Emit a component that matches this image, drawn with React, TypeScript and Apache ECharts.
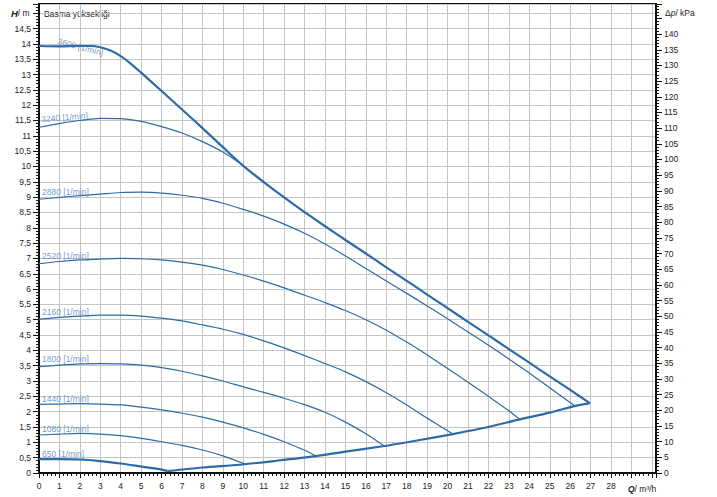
import React, { useEffect, useRef } from "react";
import * as echarts from "echarts";

// Speed curve labels
const speedLabels = [
  "3600 [1/min]",
  "3240 [1/min]",
  "2880 [1/min]",
  "2520 [1/min]",
  "2160 [1/min]",
  "1800 [1/min]",
  "1440 [1/min]",
  "1080 [1/min]",
  "650 [1/min]",
];

// Curves: [Q m3/h, H m]
const curve3600 = [
  [0, 13.93], [1, 13.92], [2, 13.93], [2.5, 13.93], [3, 13.89], [3.5, 13.78], [4, 13.6],
  [4.5, 13.35], [5, 13.06], [6, 12.46], [7, 11.86], [8, 11.25], [9, 10.63], [10, 10.02],
  [11, 9.49], [12, 8.99], [13, 8.51], [14, 8.05], [15, 7.6], [16, 7.16], [17, 6.71],
  [18, 6.27], [19, 5.82], [20, 5.38], [21, 4.93], [22, 4.49], [23, 4.04], [24, 3.6],
  [25, 3.15], [26, 2.71], [26.96, 2.28],
];
const curve3240 = [
  [0, 11.28], [1, 11.4], [2, 11.5], [3, 11.57], [4, 11.56], [5, 11.47], [6, 11.3],
  [7, 11.09], [8, 10.81], [9, 10.47], [10, 10.03],
];
const curve2880 = [
  [0, 8.93], [1, 8.99], [2, 9.05], [3, 9.1], [4, 9.15], [5, 9.16], [6, 9.13], [7, 9.06],
  [8, 8.96], [9, 8.8], [10, 8.6], [11, 8.38], [12, 8.12], [13, 7.82], [14, 7.47],
  [15, 7.08], [16, 6.67], [17, 6.26], [18, 5.86], [19, 5.45], [20, 5.03], [21, 4.6],
  [22, 4.17], [23, 3.72], [24, 3.26], [25, 2.78], [26.2, 2.2],
];
const curve2520 = [
  [0, 6.83], [1, 6.9], [2, 6.95], [3, 6.98], [4, 7.0], [5, 6.99], [6, 6.95], [7, 6.88],
  [8, 6.78], [9, 6.64], [10, 6.46], [11, 6.26], [12, 6.04], [13, 5.8], [14, 5.56],
  [15, 5.3], [16, 5.0], [17, 4.66], [18, 4.27], [19, 3.85], [20, 3.41], [21, 2.96],
  [22, 2.5], [23, 2.03], [23.53, 1.75],
];
const curve2160 = [
  [0, 5.02], [1, 5.08], [2, 5.12], [3, 5.15], [4, 5.15], [5, 5.12], [6, 5.05], [7, 4.96],
  [8, 4.83], [9, 4.69], [10, 4.52], [11, 4.31], [12, 4.08], [13, 3.83], [14, 3.57],
  [15, 3.3], [16, 2.98], [17, 2.62], [18, 2.22], [19, 1.79], [20.26, 1.27],
];
const curve1800 = [
  [0, 3.47], [1, 3.52], [2, 3.56], [3, 3.57], [4, 3.56], [5, 3.52], [6, 3.44], [7, 3.32],
  [8, 3.17], [9, 3.0], [10, 2.81], [11, 2.63], [12, 2.44], [13, 2.23], [14, 1.98],
  [15, 1.66], [16, 1.28], [16.9, 0.88],
];
const curve1440 = [
  [0, 2.24], [1, 2.25], [2, 2.26], [3, 2.25], [4, 2.22], [5, 2.15], [6, 2.06], [7, 1.95],
  [8, 1.82], [9, 1.66], [10, 1.47], [11, 1.26], [12, 1.02], [13, 0.74], [13.56, 0.55],
];
const curve1080 = [
  [0, 1.24], [1, 1.27], [2, 1.29], [3, 1.27], [4, 1.22], [5, 1.13], [6, 1.02], [7, 0.9],
  [8, 0.75], [9, 0.56], [10.1, 0.29],
];
const curve650 = [
  [0, 0.45], [1, 0.45], [2, 0.44], [3, 0.39], [4, 0.31], [5, 0.21], [6, 0.11], [6.3, 0.06],
];
const envelope = [
  [6.3, 0.06], [8, 0.18], [9.8, 0.27], [11.5, 0.39], [13.56, 0.55], [15, 0.7], [16.9, 0.88],
  [18.5, 1.06], [20.26, 1.27], [22, 1.5], [23.53, 1.75], [25, 1.97], [26.2, 2.18], [26.96, 2.28],
];

const curves = [
  curve3600, curve3240, curve2880, curve2520, curve2160, curve1800, curve1440, curve1080, curve650,
];

// Axis ticks
const xTickMax = 28;
const yLeftLabelMax = 14.5;
const yRightLabelMax = 140;

export default function App() {
  const ref = useRef<HTMLDivElement>(null);
  useEffect(() => {
    document.body.style.margin = "0";
    const chart = echarts.init(ref.current!, null, { renderer: "svg" });
    const font = "'Liberation Sans', Arial, sans-serif";
    const lineColor = "#2d6ba6";
    const labelColor = "#4a7fb8";
    const textColor = "#222";
    const gridColor = "#c4c4c4";
    const axisColor = "#111";

    const labelTweaks = [
      { rotate: -15, offset: [14, -9] },
      { rotate: 5, offset: [0, -8] },
      { rotate: 0, offset: [0, -7.5] },
      { rotate: 0, offset: [0, -8] },
      { rotate: 0, offset: [0, -7.5] },
      { rotate: 0, offset: [0, -7.5] },
      { rotate: 0, offset: [0, -5.5] },
      { rotate: 0, offset: [0, -6] },
      { rotate: 0, offset: [0, -5.5] },
    ];

    const lineSeries: any[] = curves.map((c, i) => ({
      type: "line",
      data: c,
      symbol: "none",
      smooth: 0.25,
      silent: true,
      lineStyle: { color: lineColor, width: i === 0 || i === 8 ? 2.2 : 1.2 },
      z: i === 0 || i === 8 ? 3 : 2,
    }));
    lineSeries.push({
      type: "line",
      data: envelope,
      symbol: "none",
      smooth: 0.25,
      silent: true,
      lineStyle: { color: lineColor, width: 2.2 },
      z: 3,
    });
    lineSeries.push({
      type: "scatter",
      symbolSize: 0,
      silent: true,
      z: 4,
      data: curves.map((c, i) => ({
        value: c[0],
        label: { rotate: labelTweaks[i].rotate, offset: labelTweaks[i].offset },
      })),
      label: {
        show: true,
        position: "right",
        distance: 3,
        color: labelColor,
        fontSize: 8.5,
        fontFamily: font,
        formatter: (p: any) => speedLabels[p.dataIndex],
      },
    });

    const labelStyle = { fontSize: 8.5, color: textColor, fontFamily: font };

    chart.setOption({
      animation: false,
      backgroundColor: "#fff",
      grid: {
        left: 39,
        right: 61,
        top: 4,
        bottom: 24,
        show: true,
        borderColor: axisColor,
        borderWidth: 2,
        containLabel: false,
        outerBoundsMode: "none",
      },
      xAxis: {
        type: "value",
        min: 0,
        max: 30.2,
        interval: 1,
        axisLine: { show: true, onZero: false, lineStyle: { color: axisColor, width: 2 } },
        axisTick: { show: true, length: 5, lineStyle: { color: axisColor, width: 1 } },
        minorTick: { show: true, splitNumber: 5, length: 3, lineStyle: { color: axisColor, width: 1 } },
        splitLine: { show: true, lineStyle: { color: gridColor, width: 1 } },
        axisLabel: {
          ...labelStyle,
          margin: 8,
          formatter: (v: number) => (v <= xTickMax ? String(v) : ""),
        },
      },
      yAxis: [
        {
          type: "value",
          position: "left",
          min: 0,
          max: 15.3,
          interval: 0.5,
          axisLine: { show: true, onZero: false, lineStyle: { color: axisColor, width: 2 } },
          axisTick: { show: true, length: 6, lineStyle: { color: axisColor, width: 1 } },
          minorTick: { show: true, splitNumber: 5, length: 3, lineStyle: { color: axisColor, width: 1 } },
          splitLine: { show: true, lineStyle: { color: gridColor, width: 1 } },
          axisLabel: {
            ...labelStyle,
            margin: 8,
            formatter: (v: number) => (v <= yLeftLabelMax ? String(v).replace(".", ",") : ""),
          },
        },
        {
          type: "value",
          position: "right",
          min: 0,
          max: 149.6,
          interval: 5,
          axisLine: { show: true, onZero: false, lineStyle: { color: axisColor, width: 2 } },
          axisTick: { show: true, length: 6, lineStyle: { color: axisColor, width: 1 } },
          minorTick: { show: true, splitNumber: 5, length: 3, lineStyle: { color: axisColor, width: 1 } },
          splitLine: { show: false },
          axisLabel: {
            ...labelStyle,
            margin: 8,
            formatter: (v: number) => (v <= yRightLabelMax ? String(v) : ""),
          },
        },
      ],
      graphic: [
        {
          type: "text",
          x: 44,
          y: 9,
          silent: true,
          style: { text: "Basma yüksekliği", fill: textColor, font: `8.5px ${font}` },
        },
        {
          type: "text",
          x: 11,
          y: 8,
          silent: true,
          style: {
            text: "{i|H}{n|/ m}",
            fill: textColor,
            font: `8.5px ${font}`,
            rich: {
              i: { fontStyle: "italic", fontWeight: "bold", fontSize: 9.5, fontFamily: font, fill: textColor },
              n: { fontSize: 8.5, fontFamily: font, fill: textColor },
            },
          },
        },
        {
          type: "text",
          x: 665,
          y: 8,
          silent: true,
          style: {
            text: "{n|Δ}{i|p}{n|/ kPa}",
            fill: textColor,
            font: `8.5px ${font}`,
            rich: {
              i: { fontStyle: "italic", fontSize: 8.5, fontFamily: font, fill: textColor },
              n: { fontSize: 8.5, fontFamily: font, fill: textColor },
            },
          },
        },
        {
          type: "text",
          x: 628,
          y: 484,
          silent: true,
          style: {
            text: "{i|Q}{n|/ m³/h}",
            fill: textColor,
            font: `8.5px ${font}`,
            rich: {
              i: { fontStyle: "italic", fontWeight: "bold", fontSize: 8.5, fontFamily: font, fill: textColor },
              n: { fontSize: 8.5, fontFamily: font, fill: textColor },
            },
          },
        },
      ],
      series: lineSeries,
    });
    return () => chart.dispose();
  }, []);
  return <div ref={ref} style={{ width: 717, height: 497 }} />;
}
